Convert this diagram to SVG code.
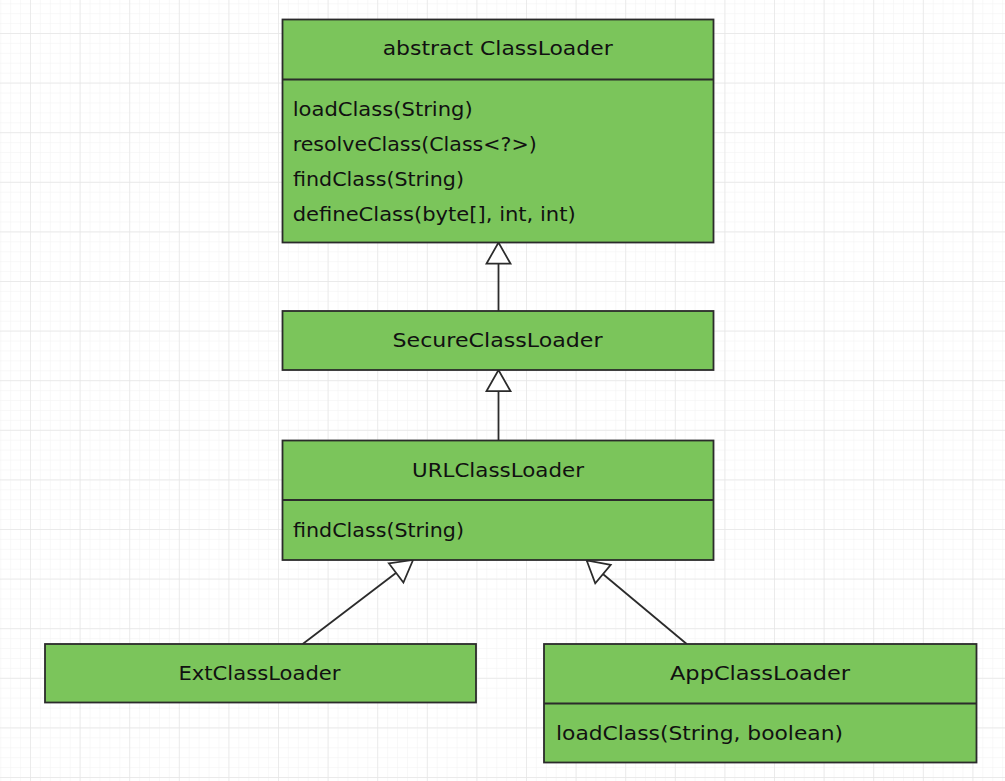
<svg xmlns="http://www.w3.org/2000/svg" width="1005" height="781" viewBox="0 0 1005 781">
  <defs>
    <pattern id="minor" x="30" y="33" width="9.92" height="9.92" patternUnits="userSpaceOnUse">
      <path d="M0,0 V9.92 M0,0 H9.92" fill="none" stroke="#f2f2f2" stroke-width="1"/>
    </pattern>
    <pattern id="major" x="30" y="33" width="49.6" height="49.6" patternUnits="userSpaceOnUse">
      <path d="M0,0 V49.6 M0,0 H49.6" fill="none" stroke="#e6e6e6" stroke-width="1.4"/>
    </pattern>
    <marker id="tri" markerUnits="userSpaceOnUse" markerWidth="26" markerHeight="28" refX="22" refY="12.5" orient="auto" viewBox="-2 -2 26 29">
      <path d="M0,0 L22,12.5 L0,25 Z" fill="#ffffff" stroke="#2b2b2b" stroke-width="1.8" stroke-linejoin="miter"/>
    </marker>
    <style>
      .box { fill: #7bc55b; stroke: #2b2b2b; stroke-width: 1.8; }
      .div { stroke: #2b2b2b; stroke-width: 1.8; }
      .t { font-family: "DejaVu Sans", "Liberation Sans", sans-serif; font-size: 20px; fill: #111111; }
      .c { text-anchor: middle; }
      .conn { stroke: #2b2b2b; stroke-width: 1.8; fill: none; marker-end: url(#tri); }
    </style>
  </defs>
  <rect width="1005" height="781" fill="#ffffff"/>
  <rect width="1005" height="781" fill="url(#minor)"/>
  <rect width="1005" height="781" fill="url(#major)"/>

  <g id="connectors">
    <line class="conn" x1="498.5" y1="311" x2="498.5" y2="242.5"/>
    <line class="conn" x1="498.5" y1="440.5" x2="498.5" y2="370"/>
    <line class="conn" x1="302.7" y1="644" x2="413" y2="560"/>
    <line class="conn" x1="686.7" y1="644" x2="586.7" y2="560.5"/>
  </g>

  <g id="ClassLoader">
    <rect class="box" x="282.5" y="19.5" width="431" height="223"/>
    <line class="div" x1="282.5" y1="79.5" x2="713.5" y2="79.5"/>
    <text class="t c" x="497.7" y="55" textLength="230" lengthAdjust="spacingAndGlyphs">abstract ClassLoader</text>
    <text class="t" x="292.7" y="116" textLength="180" lengthAdjust="spacingAndGlyphs">loadClass(String)</text>
    <text class="t" x="292.7" y="150.7" textLength="244" lengthAdjust="spacingAndGlyphs">resolveClass(Class&lt;?&gt;)</text>
    <text class="t" x="293" y="185.7" textLength="171" lengthAdjust="spacingAndGlyphs">findClass(String)</text>
    <text class="t" x="292.7" y="220.7" textLength="283" lengthAdjust="spacingAndGlyphs">defineClass(byte[], int, int)</text>
  </g>

  <g id="SecureClassLoader">
    <rect class="box" x="282.5" y="311" width="431" height="59"/>
    <text class="t c" x="497.5" y="347" textLength="210" lengthAdjust="spacingAndGlyphs">SecureClassLoader</text>
  </g>

  <g id="URLClassLoader">
    <rect class="box" x="282.5" y="440.5" width="431" height="119.5"/>
    <line class="div" x1="282.5" y1="500" x2="713.5" y2="500"/>
    <text class="t c" x="498" y="477" textLength="172" lengthAdjust="spacingAndGlyphs">URLClassLoader</text>
    <text class="t" x="293" y="537" textLength="171" lengthAdjust="spacingAndGlyphs">findClass(String)</text>
  </g>

  <g id="ExtClassLoader">
    <rect class="box" x="45" y="644" width="431" height="58.5"/>
    <text class="t c" x="259.5" y="680" textLength="162" lengthAdjust="spacingAndGlyphs">ExtClassLoader</text>
  </g>

  <g id="AppClassLoader">
    <rect class="box" x="544" y="644" width="432.5" height="118.5"/>
    <line class="div" x1="544" y1="703.5" x2="976.5" y2="703.5"/>
    <text class="t c" x="760" y="680" textLength="180" lengthAdjust="spacingAndGlyphs">AppClassLoader</text>
    <text class="t" x="556" y="740" textLength="287" lengthAdjust="spacingAndGlyphs">loadClass(String, boolean)</text>
  </g>
</svg>
